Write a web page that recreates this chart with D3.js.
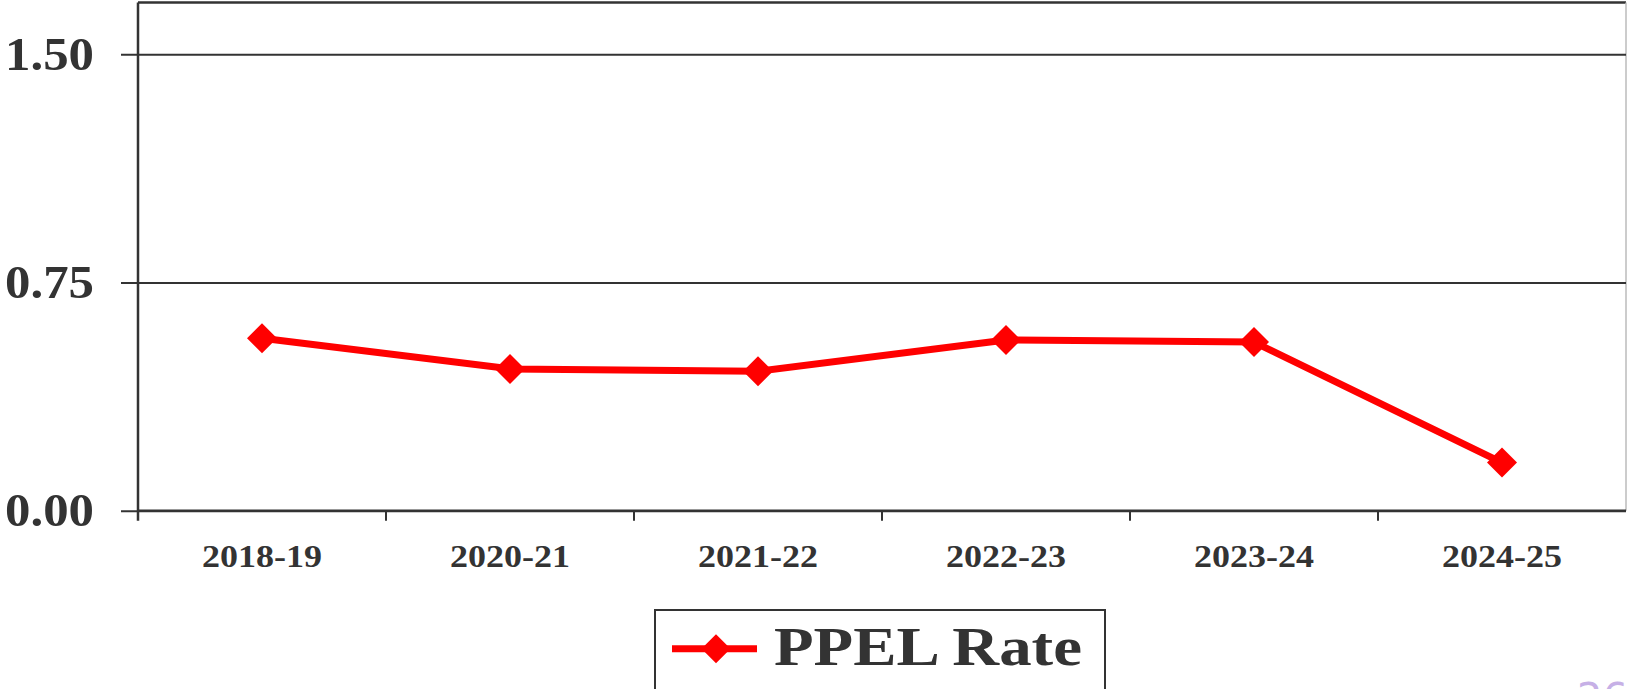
<!DOCTYPE html>
<html>
<head>
<meta charset="utf-8">
<script src="https://cdn.jsdelivr.net/npm/d3@7"></script>
<style>
  html, body { margin: 0; padding: 0; background: #fff; }
  svg { display: block; }
  text { font-family: "Liberation Serif", "Times New Roman", serif; font-weight: bold; fill: #333; }
</style>
</head>
<body>
<svg id="chart" width="1627" height="689"></svg>
<script>
// Chart data
const years = ['2018-19', '2020-21', '2021-22', '2022-23', '2023-24', '2024-25'];
const ppelRate = [0.567, 0.466, 0.458, 0.561, 0.554, 0.158];
const yTicks = [0, 0.75, 1.5];
const seriesName = 'PPEL Rate';

const size = { width: 1627, height: 689 };
const margin = { left: 138, right: 1, top: 2.5, bottom: 178.3 };
const plotW = size.width - margin.left - margin.right;
const plotH = size.height - margin.top - margin.bottom;

const svg = d3.select('#chart');

const xScale = d3.scaleBand()
  .domain(years)
  .range([margin.left, margin.left + plotW])
  .padding(0);

const yScale = d3.scaleLinear()
  .domain([0, 1.67])
  .range([margin.top + plotH, margin.top]);

// plot frame (top and right)
svg.append('line')
  .attr('x1', margin.left).attr('x2', margin.left + plotW)
  .attr('y1', margin.top).attr('y2', margin.top)
  .attr('stroke', '#333').attr('stroke-width', 2.5);
svg.append('line')
  .attr('x1', margin.left + plotW).attr('x2', margin.left + plotW)
  .attr('y1', margin.top).attr('y2', margin.top + plotH)
  .attr('stroke', '#bbb').attr('stroke-width', 1.5);

// y axis with gridlines
const yAxis = svg.append('g')
  .attr('transform', `translate(${margin.left},0)`)
  .call(d3.axisLeft(yScale).tickValues(yTicks).tickFormat(d3.format('.2f')).tickSize(17).tickPadding(27));
yAxis.select('.domain').remove();
yAxis.selectAll('.tick line')
  .attr('x1', -17).attr('x2', plotW)
  .attr('stroke', '#333').attr('stroke-width', 2);
yAxis.selectAll('.tick text')
  .attr('font-size', 47)
  .attr('textLength', 89)
  .attr('lengthAdjust', 'spacingAndGlyphs')
  .style('font-family', '"Liberation Serif", "Times New Roman", serif')
  .style('font-weight', 'bold')
  .attr('fill', '#333');

// vertical axis line (extends below as a tick)
svg.append('line')
  .attr('x1', margin.left).attr('x2', margin.left)
  .attr('y1', margin.top).attr('y2', yScale(0) + 10)
  .attr('stroke', '#333').attr('stroke-width', 2.5);

// x axis line
svg.append('line')
  .attr('x1', margin.left).attr('x2', margin.left + plotW)
  .attr('y1', yScale(0)).attr('y2', yScale(0))
  .attr('stroke', '#333').attr('stroke-width', 2.5);

// x ticks at band boundaries
svg.selectAll('line.xtick')
  .data(years.slice(1))
  .enter()
  .append('line')
  .attr('class', 'xtick')
  .attr('x1', d => xScale(d)).attr('x2', d => xScale(d))
  .attr('y1', yScale(0)).attr('y2', yScale(0) + 10)
  .attr('stroke', '#333').attr('stroke-width', 2);

// x labels
svg.selectAll('text.xlabel')
  .data(years)
  .enter()
  .append('text')
  .attr('class', 'xlabel')
  .attr('x', d => xScale(d) + xScale.bandwidth() / 2 - 60)
  .attr('y', 567)
  .attr('font-size', 32)
  .attr('textLength', 120)
  .attr('lengthAdjust', 'spacingAndGlyphs')
  .text(d => d);

// series line
const line = d3.line()
  .x((d, i) => xScale(years[i]) + xScale.bandwidth() / 2)
  .y(d => yScale(d));

svg.append('path')
  .datum(ppelRate)
  .attr('d', line)
  .attr('fill', 'none')
  .attr('stroke', '#ff0000')
  .attr('stroke-width', 7)
  .attr('stroke-linejoin', 'round');

// diamond markers
svg.selectAll('path.marker')
  .data(ppelRate)
  .enter()
  .append('path')
  .attr('class', 'marker')
  .attr('d', d3.symbol(d3.symbolSquare, 450))
  .attr('transform', (d, i) => `translate(${xScale(years[i]) + xScale.bandwidth() / 2},${yScale(d)}) rotate(45)`)
  .attr('fill', '#ff0000');

// legend
const legend = svg.append('g');
legend.append('rect')
  .attr('x', 655).attr('y', 610)
  .attr('width', 450).attr('height', 100)
  .attr('fill', '#fff')
  .attr('stroke', '#333').attr('stroke-width', 2);
legend.append('line')
  .attr('x1', 672).attr('x2', 757)
  .attr('y1', 648.7).attr('y2', 648.7)
  .attr('stroke', '#ff0000').attr('stroke-width', 7);
legend.append('path')
  .attr('d', d3.symbol(d3.symbolSquare, 420))
  .attr('transform', 'translate(716,648.7) rotate(45)')
  .attr('fill', '#ff0000');
legend.append('text')
  .attr('x', 774).attr('y', 665)
  .attr('font-size', 54)
  .attr('textLength', 308)
  .attr('lengthAdjust', 'spacingAndGlyphs')
  .text(seriesName);

// page number, cut off at the bottom edge
svg.append('text')
  .attr('x', 1577).attr('y', 712)
  .attr('font-size', 40)
  .style('font-weight', 'normal')
  .style('font-family', '"DejaVu Sans", sans-serif')
  .style('fill', '#c6b0e6')
  .text('26');
</script>
</body>
</html>
